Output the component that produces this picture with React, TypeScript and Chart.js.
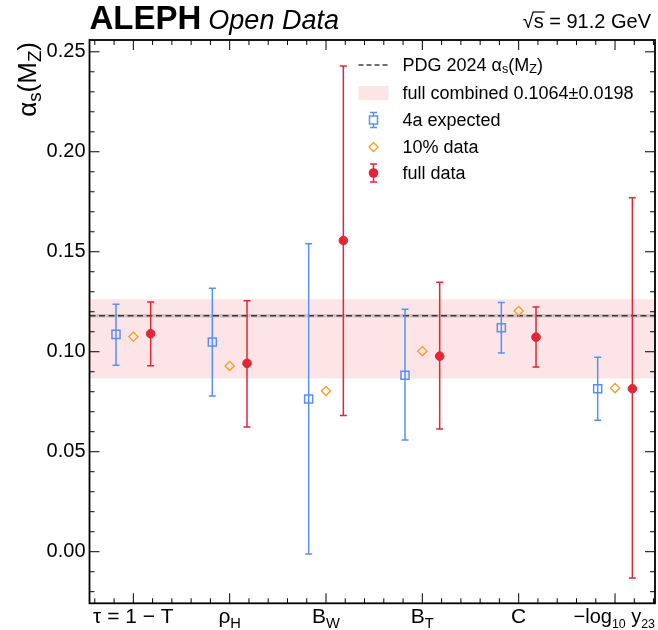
import React, { useEffect, useRef } from "react";
import { Chart, registerables } from "chart.js";
Chart.register(...registerables);

const FONT = "'Liberation Sans', Arial, Helvetica, sans-serif";

type Seg = { t: string; sub?: boolean };

// categories (with sub-scripted parts)
const categoryLabels: Seg[][] = [
  [{ t: "τ = 1 − T" }],
  [{ t: "ρ" }, { t: "H", sub: true }],
  [{ t: "B" }, { t: "W", sub: true }],
  [{ t: "B" }, { t: "T", sub: true }],
  [{ t: "C" }],
  [{ t: "−log" }, { t: "10", sub: true }, { t: " y" }, { t: "23", sub: true }],
];
const categoryPositions = [0, 1, 2, 3, 4, 5];

// series
const expectedValues = [0.1087, 0.1049, 0.0764, 0.0882, 0.1120, 0.0815];
const expectedLow = [0.0932, 0.0779, -0.0012, 0.0559, 0.0994, 0.0657];
const expectedHigh = [0.1238, 0.1317, 0.1540, 0.1212, 0.1246, 0.0973];

const tenPctValues = [0.1075, 0.0929, 0.0804, 0.1003, 0.1204, 0.0818];

const fullValues = [0.1090, 0.0942, 0.1556, 0.0978, 0.1073, 0.0815];
const fullLow = [0.0930, 0.0624, 0.0681, 0.0614, 0.0924, -0.0132];
const fullHigh = [0.1249, 0.1255, 0.2429, 0.1347, 0.1224, 0.1770];

const pdgValue = 0.1180;
const pdgUnc = 0.0009;
const combinedValue = 0.1064;
const combinedUnc = 0.0198;

const yTickValues = [0, 0.05, 0.1, 0.15, 0.2, 0.25];
const xMin = -0.455;
const xMax = 5.415;
const yMin = -0.0258;
const yMax = 0.2559;
const groupOffset = 0.18;

const BLUE = "#5790fc";
const ORANGE = "#f89c20";
const RED = "#e42536";
const PDG_COLOR = "rgba(30,30,30,0.85)";
const BAND_COLOR = "rgba(228,37,54,0.12)";
const PDG_BAND = "rgba(90,90,90,0.25)";

function drawSegs(ctx: CanvasRenderingContext2D, segs: Seg[], x: number, y: number, size: number, measureOnly = false, subScale = 0.7): number {
  let cx = x;
  for (const s of segs) {
    const fs = s.sub ? size * subScale : size;
    ctx.font = `${fs}px ${FONT}`;
    if (!measureOnly) ctx.fillText(s.t, cx, s.sub ? y + size * 0.22 : y);
    cx += ctx.measureText(s.t).width;
  }
  return cx - x;
}

function drawErrorBar(ctx: CanvasRenderingContext2D, x: number, y1: number, y2: number, color: string, cap: number) {
  ctx.save();
  ctx.strokeStyle = color;
  ctx.lineWidth = 1.5;
  ctx.beginPath();
  ctx.moveTo(x, y1);
  ctx.lineTo(x, y2);
  ctx.moveTo(x - cap, y1);
  ctx.lineTo(x + cap, y1);
  ctx.moveTo(x - cap, y2);
  ctx.lineTo(x + cap, y2);
  ctx.stroke();
  ctx.restore();
}

const errorBarPlugin = {
  id: "errorBars",
  beforeDatasetDraw(chart: any, args: any) {
    const ds = chart.data.datasets[args.index];
    if (!ds.errLow) return;
    const ctx = chart.ctx;
    const xs = chart.scales.x;
    const ys = chart.scales.y;
    ctx.save();
    ctx.beginPath();
    const a = chart.chartArea;
    ctx.rect(a.left, a.top, a.right - a.left, a.bottom - a.top);
    ctx.clip();
    ds.data.forEach((p: any, i: number) => {
      drawErrorBar(ctx, xs.getPixelForValue(p.x), ys.getPixelForValue(ds.errHigh[i]), ys.getPixelForValue(ds.errLow[i]), ds.errColor, 3.5);
    });
    ctx.restore();
  },
};

const decorPlugin = {
  id: "decor",
  afterDraw(chart: any) {
    const ctx: CanvasRenderingContext2D = chart.ctx;
    const a = chart.chartArea;
    const xs = chart.scales.x;
    const ys = chart.scales.y;
    ctx.save();
    ctx.fillStyle = "#000";
    ctx.strokeStyle = "#000";

    // ticks
    ctx.lineWidth = 1;
    ctx.beginPath();
    for (let k = -5; k <= 30; k++) {
      const v = k / 100;
      if (v < yMin || v > yMax) continue;
      const py = ys.getPixelForValue(v);
      const len = k % 5 === 0 ? 10 : 5;
      ctx.moveTo(a.left, py);
      ctx.lineTo(a.left + len, py);
      ctx.moveTo(a.right, py);
      ctx.lineTo(a.right - len, py);
    }
    for (let k = -5; k <= 30; k++) {
      const v = k * 0.2;
      if (v < xMin || v > xMax) continue;
      const px = xs.getPixelForValue(v);
      const len = k % 5 === 0 ? 10 : 5;
      ctx.moveTo(px, a.bottom);
      ctx.lineTo(px, a.bottom - len);
      ctx.moveTo(px, a.top);
      ctx.lineTo(px, a.top + len);
    }
    ctx.stroke();

    // frame
    ctx.lineWidth = 1.8;
    ctx.strokeRect(a.left, a.top, a.right - a.left, a.bottom - a.top);

    // x category labels
    ctx.textBaseline = "alphabetic";
    ctx.textAlign = "left";
    categoryLabels.forEach((segs, i) => {
      const last = i === categoryLabels.length - 1;
      const size = last ? 20 : 21;
      const sc = last ? 0.62 : 0.7;
      const w = drawSegs(ctx, segs, 0, 0, size, true, sc);
      const cx = xs.getPixelForValue(categoryPositions[i]);
      drawSegs(ctx, segs, Math.min(cx - w / 2, a.right - w), a.bottom + 20, size, false, sc);
    });

    // y title (rotated)
    const ySegs: Seg[] = [{ t: "α" }, { t: "s", sub: true }, { t: "(M" }, { t: "Z", sub: true }, { t: ")" }];
    const yw = drawSegs(ctx, ySegs, 0, 0, 26, true, 0.72);
    ctx.save();
    ctx.translate(35.5, a.top + 2 + yw);
    ctx.rotate(-Math.PI / 2);
    drawSegs(ctx, ySegs, 0, 0, 26, false, 0.72);
    ctx.restore();

    // title
    const base = a.top - 11;
    ctx.font = `bold 33px ${FONT}`;
    ctx.fillText("ALEPH", a.left, base);
    const aw = ctx.measureText("ALEPH").width;
    ctx.font = `italic 27px ${FONT}`;
    ctx.fillText("Open Data", a.left + aw + 7, base);

    // sqrt(s) label
    ctx.font = `20px ${FONT}`;
    const rest = " = 91.2 GeV";
    const wRest = ctx.measureText(rest).width;
    const wS = ctx.measureText("s").width;
    const wRad = ctx.measureText("√").width;
    const endX = a.right - 4;
    const sx = endX - wRest - wS;
    const rx = sx - wRad;
    const b2 = a.top - 12.5;
    ctx.fillText("√", rx, b2);
    ctx.fillText("s", sx, b2);
    ctx.fillText(rest, sx + wS, b2);
    ctx.lineWidth = 1.2;
    ctx.beginPath();
    ctx.moveTo(sx - 1, b2 - 15.5);
    ctx.lineTo(sx + wS + 1, b2 - 15.5);
    ctx.stroke();

    // legend
    const lx = a.left + 269;
    const tx = a.left + 313;
    const rows = [a.top + 25, a.top + 53, a.top + 80, a.top + 107, a.top + 133];
    ctx.textBaseline = "middle";
    ctx.fillStyle = "#000";
    ctx.save();
    ctx.strokeStyle = PDG_COLOR;
    ctx.lineWidth = 1.5;
    ctx.setLineDash([5, 3]);
    ctx.beginPath();
    ctx.moveTo(lx, rows[0]);
    ctx.lineTo(lx + 30, rows[0]);
    ctx.stroke();
    ctx.restore();
    drawSegs(ctx, [{ t: "PDG 2024 α" }, { t: "s", sub: true }, { t: "(M" }, { t: "Z", sub: true }, { t: ")" }], tx, rows[0] + 1, 18);
    ctx.fillStyle = BAND_COLOR;
    ctx.fillRect(lx, rows[1] - 7, 30, 14);
    ctx.fillStyle = "#000";
    ctx.font = `18px ${FONT}`;
    ctx.fillText("full combined 0.1064±0.0198", tx, rows[1] + 1);
    const mx = lx + 15;
    drawErrorBar(ctx, mx, rows[2] - 7.5, rows[2] + 7.5, BLUE, 3.5);
    ctx.strokeStyle = BLUE;
    ctx.lineWidth = 1.5;
    ctx.fillStyle = "#fff";
    ctx.fillRect(mx - 4, rows[2] - 4, 8, 8);
    ctx.strokeRect(mx - 4, rows[2] - 4, 8, 8);
    ctx.fillStyle = "#000";
    ctx.fillText("4a expected", tx, rows[2] + 1);
    ctx.strokeStyle = ORANGE;
    ctx.lineWidth = 1.3;
    ctx.beginPath();
    ctx.moveTo(mx - 4.5, rows[3]);
    ctx.lineTo(mx, rows[3] - 4.5);
    ctx.lineTo(mx + 4.5, rows[3]);
    ctx.lineTo(mx, rows[3] + 4.5);
    ctx.closePath();
    ctx.stroke();
    ctx.fillText("10% data", tx, rows[3] + 1);
    drawErrorBar(ctx, mx, rows[4] - 9, rows[4] + 9, RED, 3.5);
    ctx.fillStyle = RED;
    ctx.beginPath();
    ctx.arc(mx, rows[4], 4.8, 0, Math.PI * 2);
    ctx.fill();
    ctx.fillStyle = "#000";
    ctx.fillText("full data", tx, rows[4] + 1);

    ctx.restore();
  },
};

export default function App() {
  const ref = useRef<HTMLCanvasElement | null>(null);
  useEffect(() => {
    if (!ref.current) return;
    Chart.defaults.font.family = FONT;
    const hLine = (y: number) => [{ x: xMin, y }, { x: xMax, y }];
    const chart = new Chart(ref.current, {
      type: "line",
      data: {
        datasets: [
          { label: "band-low", data: hLine(combinedValue - combinedUnc), borderWidth: 0, pointRadius: 0, fill: false, order: 20 } as any,
          { label: "full combined", data: hLine(combinedValue + combinedUnc), borderWidth: 0, pointRadius: 0, fill: "-1", backgroundColor: BAND_COLOR, order: 19 } as any,
          { label: "pdg-low", data: hLine(pdgValue - pdgUnc), borderWidth: 0, pointRadius: 0, fill: false, order: 18 } as any,
          { label: "pdg-high", data: hLine(pdgValue + pdgUnc), borderWidth: 0, pointRadius: 0, fill: "-1", backgroundColor: PDG_BAND, order: 17 } as any,
          {
            label: "PDG 2024",
            data: hLine(pdgValue),
            borderColor: PDG_COLOR,
            borderWidth: 1.6,
            borderDash: [6, 3.5],
            pointRadius: 0,
            fill: false,
            order: 16,
          } as any,
          {
            label: "4a expected",
            data: expectedValues.map((v, i) => ({ x: categoryPositions[i] - groupOffset, y: v })),
            showLine: false,
            pointStyle: "rect",
            pointRadius: 5.7,
            pointBorderWidth: 1.5,
            pointBorderColor: BLUE,
            pointBackgroundColor: "rgba(255,255,255,0)",
            errLow: expectedLow,
            errHigh: expectedHigh,
            errColor: BLUE,
            order: 3,
          } as any,
          {
            label: "10% data",
            data: tenPctValues.map((v, i) => ({ x: categoryPositions[i], y: v })),
            showLine: false,
            pointStyle: "rectRot",
            pointRadius: 4.6,
            pointBorderWidth: 1.3,
            pointBorderColor: ORANGE,
            pointBackgroundColor: "rgba(255,255,255,0)",
            order: 2,
          } as any,
          {
            label: "full data",
            data: fullValues.map((v, i) => ({ x: categoryPositions[i] + groupOffset, y: v })),
            showLine: false,
            pointStyle: "circle",
            pointRadius: 4.3,
            pointBorderWidth: 1,
            pointBorderColor: RED,
            pointBackgroundColor: RED,
            errLow: fullLow,
            errHigh: fullHigh,
            errColor: RED,
            order: 1,
          } as any,
        ],
      },
      options: {
        responsive: false,
        animation: false,
        events: [],
        layout: { autoPadding: false, padding: { top: 40, right: 3, left: 0, bottom: 0 } },
        plugins: {
          legend: { display: false },
          tooltip: { enabled: false },
          title: { display: false },
        },
        scales: {
          x: {
            type: "linear",
            min: xMin,
            max: xMax,
            grid: { display: false, drawTicks: false },
            border: { display: false },
            ticks: { display: false },
            afterFit: (s: any) => {
              s.height = 26.7;
            },
          },
          y: {
            type: "linear",
            min: yMin,
            max: yMax,
            grid: { display: false, drawTicks: false },
            border: { display: false },
            afterFit: (s: any) => {
              s.width = 89.5;
            },
            afterBuildTicks: (s: any) => {
              s.ticks = yTickValues.map((v) => ({ value: v }));
            },
            ticks: {
              color: "#000",
              font: { size: 20, family: FONT },
              padding: 4,
              callback: (v: any) => Number(v).toFixed(2),
            },
          },
        },
      } as any,
      plugins: [errorBarPlugin, decorPlugin],
    });
    return () => chart.destroy();
  }, []);
  return (
    <div style={{ position: "absolute", left: 0, top: 0, width: 658, height: 630, background: "#fff" }}>
      <canvas ref={ref} width={658} height={630} style={{ display: "block" }} />
    </div>
  );
}
